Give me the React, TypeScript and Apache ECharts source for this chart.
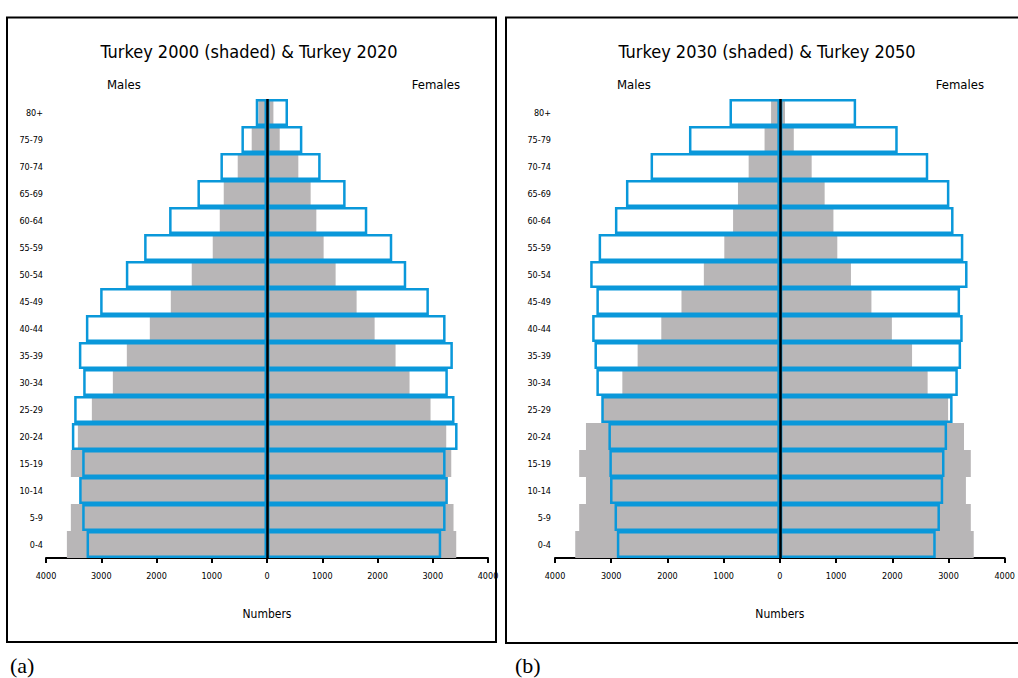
import React, { useEffect, useRef } from "react";
import * as echarts from "echarts";

const ageGroups = ["0-4", "5-9", "10-14", "15-19", "20-24", "25-29", "30-34", "35-39", "40-44", "45-49", "50-54", "55-59", "60-64", "65-69", "70-74", "75-79", "80+"];

// Panel (a): Turkey 2000 (shaded) & Turkey 2020 (outlined), thousands
const males2000 = [3622, 3550, 3380, 3550, 3423, 3170, 2790, 2537, 2121, 1741, 1362, 982, 855, 783, 530, 277, 156];
const females2000 = [3425, 3376, 3260, 3335, 3244, 2960, 2580, 2327, 1948, 1622, 1242, 1025, 893, 790, 567, 230, 116];
const males2020 = [3266, 3345, 3400, 3345, 3532, 3490, 3327, 3405, 3278, 3020, 2555, 2224, 1772, 1259, 843, 463, 204];
const females2020 = [3153, 3232, 3273, 3232, 3449, 3394, 3273, 3364, 3232, 2930, 2520, 2267, 1815, 1423, 971, 640, 380];

// Panel (b): Turkey 2030 (shaded) & Turkey 2050 (outlined), thousands
const males2030 = [3640, 3570, 3449, 3570, 3449, 3160, 2802, 2530, 2109, 1750, 1352, 988, 832, 745, 555, 272, 156];
const females2030 = [3449, 3397, 3310, 3397, 3276, 2993, 2629, 2352, 1993, 1629, 1265, 1022, 953, 797, 566, 248, 92];
const males2050 = [2900, 2941, 3021, 3033, 3050, 3177, 3264, 3298, 3339, 3264, 3374, 3224, 2934, 2738, 2300, 1617, 896];
const females2050 = [2773, 2848, 2906, 2929, 2975, 3073, 3166, 3224, 3253, 3206, 3339, 3264, 3090, 3016, 2640, 2097, 1357];

const titles = ["Turkey 2000 (shaded) & Turkey 2020", "Turkey 2030 (shaded) & Turkey 2050"];
const panelTags = ["(a)", "(b)"];
const axisName = "Numbers";

const FONT = "'Liberation Sans Narrow', 'DejaVu Sans Condensed', 'Arial Narrow', 'Liberation Sans', sans-serif";
const GREY = "#b8b6b7";
const BLUE = "#0a98da";

export default function App() {
  const ref = useRef<HTMLDivElement>(null);
  useEffect(() => {
    if (!ref.current) return;
    const chart = echarts.init(ref.current, null, { renderer: "svg" });

    const xAxisCfg = (gi: number) => ({
      type: "value",
      gridIndex: gi,
      min: -4000,
      max: 4000,
      interval: 1000,
      name: axisName,
      nameLocation: "middle",
      nameGap: 50,
      nameTextStyle: { color: "#000", fontSize: 12, fontFamily: FONT },
      axisLine: { show: true, lineStyle: { color: "#000", width: 2 } },
      axisTick: { show: true, length: 5, lineStyle: { color: "#000", width: 2 } },
      axisLabel: {
        color: "#000",
        fontSize: 9,
        fontFamily: FONT,
        margin: 13,
        formatter: (v: number) => String(Math.abs(v)),
      },
      splitLine: { show: false },
    });

    const yAxisCfg = (gi: number, margin: number) => ({
      type: "category",
      gridIndex: gi,
      data: ageGroups,
      axisLine: { show: false },
      axisTick: { show: false },
      axisLabel: { color: "#000", fontSize: 9, fontFamily: FONT, margin },
    });

    const greyBar = (data: number[], gi: number, sign: number) => ({
      type: "bar",
      xAxisIndex: gi,
      yAxisIndex: gi,
      data: data.map((v) => sign * v),
      barGap: "-100%",
      barCategoryGap: "0%",
      itemStyle: { color: GREY },
      silent: true,
    });

    const blueBar = (data: number[], gi: number, sign: number, withLine: boolean) => ({
      type: "bar",
      xAxisIndex: gi,
      yAxisIndex: gi,
      data: data.map((v) => sign * v),
      barGap: "-100%",
      barCategoryGap: "0%",
      itemStyle: { color: "rgba(0,0,0,0)", borderColor: BLUE, borderWidth: 2.5 },
      silent: true,
      z: 3,
      markLine: withLine
        ? {
            silent: true,
            symbol: "none",
            label: { show: false },
            lineStyle: { color: "#000", width: 2.5, type: "solid" },
            data: [{ xAxis: 0 }],
            z: 5,
          }
        : undefined,
    });

    const text = (t: string, x: number, y: number, size: number, align: string, family = FONT) => ({
      type: "text",
      x,
      y,
      style: { text: t, fill: "#000", fontSize: size, fontFamily: family, align, verticalAlign: "middle" },
      silent: true,
    });

    chart.setOption({
      animation: false,
      backgroundColor: "#fff",
      grid: [
        { left: 46, top: 99, width: 442, height: 459 },
        { left: 555, top: 99, width: 462, height: 459 },
      ],
      xAxis: [xAxisCfg(0), xAxisCfg(1)],
      yAxis: [yAxisCfg(0, 3), yAxisCfg(1, 4)],
      series: [
        greyBar(males2000, 0, -1),
        greyBar(females2000, 0, 1),
        blueBar(males2020, 0, -1, false),
        blueBar(females2020, 0, 1, true),
        greyBar(males2030, 1, -1),
        greyBar(females2030, 1, 1),
        blueBar(males2050, 1, -1, false),
        blueBar(females2050, 1, 1, true),
      ],
      graphic: [
        {
          type: "rect",
          shape: { x: 7, y: 17.5, width: 489, height: 624.5 },
          style: { fill: "none", stroke: "#000", lineWidth: 2 },
          silent: true,
        },
        {
          type: "rect",
          shape: { x: 506, y: 17.5, width: 520, height: 625.5 },
          style: { fill: "none", stroke: "#000", lineWidth: 2 },
          silent: true,
        },
        text(titles[0], 249, 51, 18, "center"),
        text(titles[1], 767, 51, 18, "center"),
        text("Males", 107, 84, 13, "left"),
        text("Females", 460, 84, 13, "right"),
        text("Males", 617, 84, 13, "left"),
        text("Females", 984, 84, 13, "right"),
        text(panelTags[0], 10, 665, 22, "left", "'Liberation Serif', 'DejaVu Serif', serif"),
        text(panelTags[1], 515, 665, 22, "left", "'Liberation Serif', 'DejaVu Serif', serif"),
      ],
    });

    return () => chart.dispose();
  }, []);

  return (
    <div
      ref={ref}
      style={{ position: "absolute", left: 0, top: 0, width: 1018, height: 678, background: "#fff" }}
    />
  );
}
